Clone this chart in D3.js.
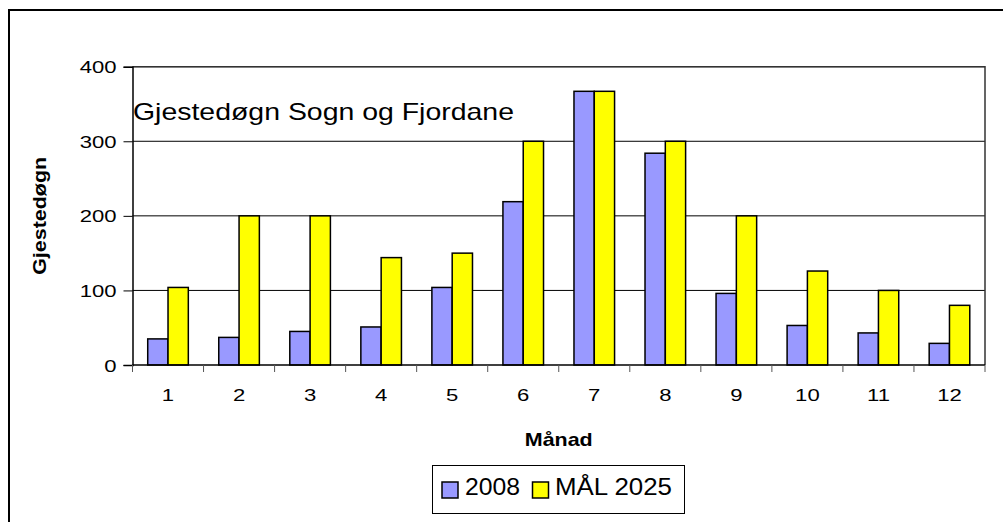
<!DOCTYPE html>
<html>
<head>
<meta charset="utf-8">
<script src="https://cdn.jsdelivr.net/npm/d3@7"></script>
<style>
  html, body { margin: 0; padding: 0; background: #fff; }
  svg { display: block; font-family: "Liberation Sans", Arial, sans-serif; }
</style>
</head>
<body>
<svg id="chart" width="1003" height="522"></svg>
<script>
const months = ["1","2","3","4","5","6","7","8","9","10","11","12"];
const seriesNames = ["2008", "MÅL 2025"];
const values2008 = [35, 37, 45, 51, 104, 219, 367, 284, 96, 53, 43, 29];
const valuesGoal = [104, 200, 200, 144, 150, 300, 367, 300, 200, 126, 100, 80];
const yTicks = [0, 100, 200, 300, 400];
const colors = ["#9999FF", "#FFFF00"];
const chartTitle = "Gjestedøgn Sogn og Fjordane";
const xTitle = "Månad";
const yTitle = "Gjestedøgn";

const svg = d3.select("#chart");
const L = 132.5, R = 985, T = 66.7, B = 365;

// outer chart border
svg.append("rect").attr("x", 9).attr("y", 10).attr("width", 1100).attr("height", 600)
  .attr("fill", "none").attr("stroke", "#000").attr("stroke-width", 2);

const y = d3.scaleLinear().domain([0, 400]).range([B, T]);
const pi = 1.5 / 3.5;
const x0 = d3.scaleBand().domain(months).range([L, R]).paddingInner(pi).paddingOuter(pi / 2);
const x1 = d3.scaleBand().domain(seriesNames).range([0, x0.bandwidth()]);
const xIdx = d3.scaleLinear().domain([0, months.length]).range([L, R]);

// gridlines
svg.append("g").selectAll("line").data(yTicks.filter(d => d > 0)).join("line")
  .attr("x1", L).attr("x2", R).attr("y1", d => y(d)).attr("y2", d => y(d))
  .attr("stroke", "#000").attr("stroke-width", 1);

// plot area right/top border
svg.append("path").attr("d", `M${L},${T}H${R}V${B}`).attr("fill", "none")
  .attr("stroke", "#333").attr("stroke-width", 1.5);

// bars
const data = months.map((m, i) => ({ m, vals: [values2008[i], valuesGoal[i]] }));
const groups = svg.append("g").selectAll("g").data(data).join("g")
  .attr("transform", d => `translate(${x0(d.m)},0)`);
groups.selectAll("rect").data(d => d.vals.map((v, k) => ({ v, k }))).join("rect")
  .attr("x", d => x1(seriesNames[d.k]))
  .attr("y", d => y(d.v))
  .attr("width", x1.bandwidth())
  .attr("height", d => B - y(d.v))
  .attr("fill", d => colors[d.k])
  .attr("stroke", "#000").attr("stroke-width", 1.5);

// y axis
const yAxis = svg.append("g").attr("transform", `translate(${L},0)`)
  .call(d3.axisLeft(y).tickValues(yTicks).tickSize(9).tickPadding(0));
yAxis.select(".domain").attr("stroke", "#000").attr("stroke-width", 1.5);
yAxis.selectAll(".tick line").attr("stroke", "#000");
yAxis.selectAll(".tick text")
  .attr("x", -16 / 1.3).attr("dy", "0.36em")
  .attr("transform", "scale(1.3,1)")
  .style("font-size", "17px").attr("fill", "#000");

// x axis boundary ticks
const xAx = svg.append("g");
xAx.append("line").attr("x1", L).attr("x2", R).attr("y1", B).attr("y2", B)
  .attr("stroke", "#000").attr("stroke-width", 1.5);
xAx.selectAll("line.tk").data(d3.range(months.length + 1)).join("line").attr("class", "tk")
  .attr("x1", d => xIdx(d)).attr("x2", d => xIdx(d)).attr("y1", B).attr("y2", B + 7)
  .attr("stroke", "#555").attr("stroke-width", 1);
xAx.selectAll("g.lbl").data(months).join("g").attr("class", "lbl")
  .attr("transform", d => `translate(${x0(d) + x0.bandwidth() / 2},401)`)
  .append("text").attr("text-anchor", "middle").attr("transform", "scale(1.3,1)")
  .style("font-size", "17px").text(d => d);

// chart title (inside plot)
svg.append("text").attr("x", 133).attr("y", 120)
  .attr("textLength", 381).attr("lengthAdjust", "spacingAndGlyphs")
  .style("font-size", "24px").text(chartTitle);

// axis titles
svg.append("text").attr("x", (L + R) / 2).attr("y", 446).attr("text-anchor", "middle")
  .attr("textLength", 68).attr("lengthAdjust", "spacingAndGlyphs")
  .style("font-size", "19px").style("font-weight", "bold").text(xTitle);
svg.append("text").attr("transform", `translate(46,${(T + B) / 2}) rotate(-90)`)
  .attr("text-anchor", "middle")
  .attr("textLength", 118).attr("lengthAdjust", "spacingAndGlyphs")
  .style("font-size", "18px").style("font-weight", "bold").text(yTitle);

// legend
const lg = svg.append("g");
lg.append("rect").attr("x", 432.5).attr("y", 465.5).attr("width", 252).attr("height", 48)
  .attr("fill", "#fff").attr("stroke", "#000").attr("stroke-width", 1);
const legendItems = [
  { name: seriesNames[0], sx: 442, tx: 465, w: 55 },
  { name: seriesNames[1], sx: 532.5, tx: 555, w: 117 }
];
legendItems.forEach((it, k) => {
  lg.append("rect").attr("x", it.sx).attr("y", 482).attr("width", 16).attr("height", 16)
    .attr("fill", colors[k]).attr("stroke", "#000").attr("stroke-width", 1.5);
  lg.append("text").attr("x", it.tx).attr("y", 495)
    .attr("textLength", it.w).attr("lengthAdjust", "spacingAndGlyphs")
    .style("font-size", "24px").text(it.name);
});
</script>
</body>
</html>
